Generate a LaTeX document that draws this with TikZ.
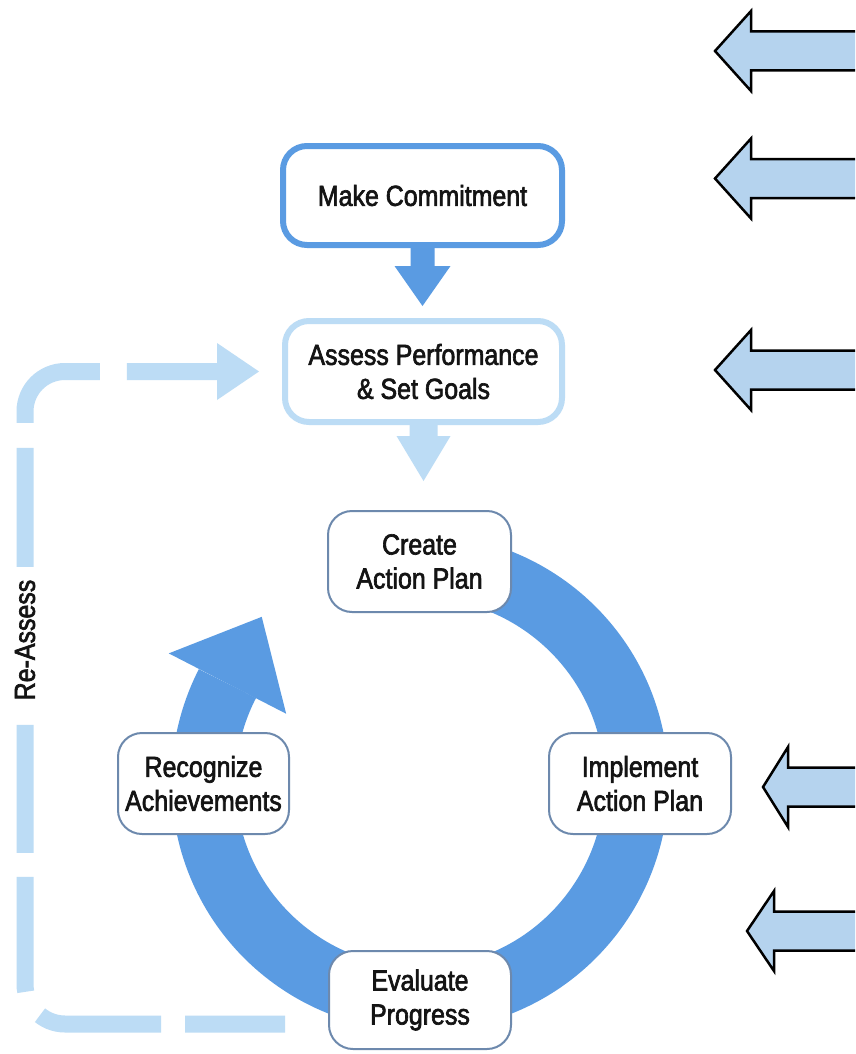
\documentclass[tikz,border=0pt]{standalone}
\usepackage{fontspec}
\setmainfont{Liberation Sans}[FakeStretch=0.86,FakeBold=2.2]
\usetikzlibrary{calc,backgrounds}
\definecolor{ringblue}{HTML}{5A9BE2}
\definecolor{lightblue}{HTML}{BCDCF5}
\definecolor{boxedge}{HTML}{6D89AD}
\definecolor{callout}{HTML}{B5D3EE}
\definecolor{txt}{HTML}{141414}
\tikzset{
  lbl/.style={font=\fontsize{29}{34}\selectfont, text=txt, align=center, inner sep=0pt},
  topbox/.style={lbl, draw=ringblue, line width=6pt, fill=white, rounded corners=24pt},
  goalbox/.style={lbl, draw=lightblue, line width=6pt, fill=white, rounded corners=24pt},
  stepbox/.style={lbl, draw=boxedge, line width=2pt, fill=white, rounded corners=24pt},
  ring/.style={draw=ringblue, line width=64pt},
  reassess/.style={draw=lightblue, line width=17pt, rounded corners=40pt,
    dash pattern=on 100pt off 24pt on 123pt off 28pt on 115pt off 24pt on 128pt off 158pt on 119pt off 25pt on 109pt off 27pt on 400pt},
  callarrow/.style={fill=callout, draw=black, line width=2.5pt, line join=miter},
}
\newcommand{\blockarrow}[3]{%
  \draw[callarrow] (#1,#2) -- ++(#3,40) -- ++(0,-20.5) -- ++(200,0) -- ++(0,-39) -- ++(-200,0) -- ++(0,-20.5) -- cycle;}
\begin{document}
\begin{tikzpicture}[x=1pt,y=1pt]
\useasboundingbox (0,0) rectangle (855,-1054);
\clip (0,0) rectangle (855,-1054);

% boxes
\node[topbox, minimum width=279pt, minimum height=99pt] (mc) at (422.5,-195.5) {Make Commitment};
\node[goalbox, minimum width=277pt, minimum height=101pt] (asg) at (423.5,-371.5) {Assess Performance\\\& Set Goals};
\node[stepbox, minimum width=183pt, minimum height=101pt] (cap) at (419.5,-561.5) {Create\\Action Plan};
\node[stepbox, minimum width=182pt, minimum height=101pt] (iap) at (640,-783.5) {Implement\\Action Plan};
\node[stepbox, minimum width=182pt, minimum height=98pt] (evp) at (420,-1000) {Evaluate\\Progress};
\node[stepbox, minimum width=171pt, minimum height=101pt] (rca) at (203.5,-783.5) {Recognize\\Achievements};
\node[lbl, rotate=90] (ralbl) at (25,-640) {Re-Assess};

% cycle ring
\coordinate (cc) at (420,-782.5);
\coordinate (hb) at ($(cc)+(152.8:216.5)$);
\begin{pgfonlayer}{background}
\fill[white] (0,0) rectangle (855,-1054);
\draw[ring] ($(cc)+(95:216.5)$) arc[start angle=95, end angle=-207.2, radius=216.5];
\fill[ringblue] ($(hb)+(152.8:66)$) -- ($(hb)+(62.8:75)$) -- ($(hb)+(152.8:-66)$) -- cycle;
\end{pgfonlayer}

% down arrows
\fill[ringblue] ($(mc.south)+(-12,0)$) -- ++(0,-18) -- ++(-16,0) -- ($(mc.south)+(0,-58)$)
  -- ($(mc.south)+(28,-18)$) -- ++(-16,0) -- ($(mc.south)+(12,0)$) -- cycle;
\fill[lightblue] ($(asg.south)+(-14,0)$) -- ++(0,-11) -- ++(-13,0) -- ($(asg.south)+(0,-56)$)
  -- ($(asg.south)+(27,-11)$) -- ++(-13,0) -- ($(asg.south)+(14,0)$) -- cycle;

% re-assess loop
\coordinate (ra) at (285,-1024);
\coordinate (bl) at (25,-1024);
\draw[reassess] (ra) -- (bl) -- (bl |- asg.west) -- ($(asg.west)+(-65,0)$);
\fill[lightblue] ($(asg.west)+(-65,28.5)$) -- ($(asg.west)+(-23,0)$) -- ($(asg.west)+(-65,-28.5)$) -- cycle;

% callout arrows
\blockarrow{715}{-51}{36}
\blockarrow{715}{-178.5}{36}
\blockarrow{715}{-370}{36}
\blockarrow{763}{-787}{25}
\blockarrow{747}{-931}{27}
\end{tikzpicture}
\end{document}
